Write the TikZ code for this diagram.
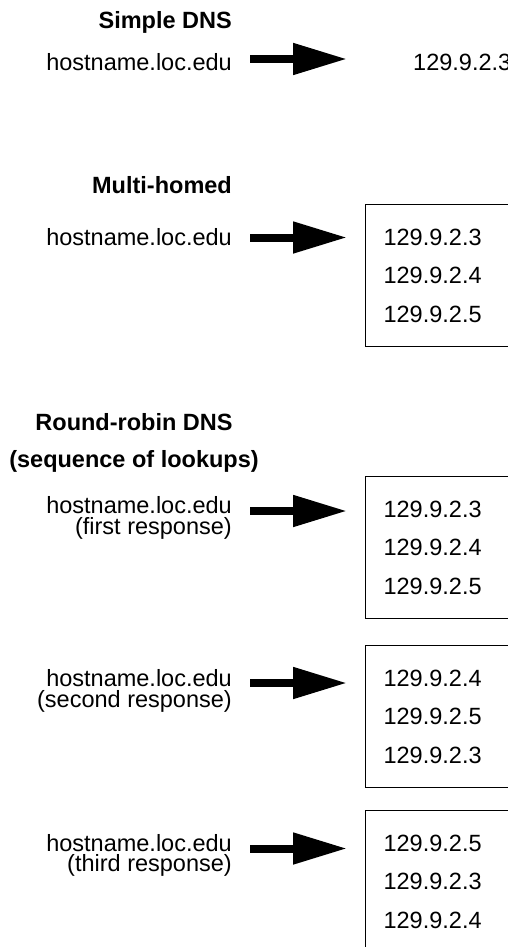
\documentclass[tikz,border=0pt]{standalone}
\usepackage{fontspec}
\setmainfont{Liberation Sans}
\usetikzlibrary{arrows.meta,positioning}

\begin{document}
\begin{tikzpicture}[x=1pt,y=-1pt,
	every node/.style={inner sep=0pt,font=\fontsize{23.5}{20.5}\selectfont},
	heading/.style={font=\fontsize{23.5}{37}\selectfont\bfseries},
	host/.style={anchor=base east,align=right},
	addrbox/.style={draw,line width=1.2pt,anchor=north west,align=left,
		inner xsep=18pt,inner ysep=24pt,text width=130pt,
		font=\fontsize{23.5}{38.5}\selectfont},
	bigarrow/.style={line width=8pt,-{Triangle[length=54pt,width=30pt]},
		shorten <=18pt,shorten >=18pt}]
	
	\useasboundingbox (0,0) rectangle (508,947);
	\clip (0,0) rectangle (508,947);
	
	% simple DNS
	\node[heading,anchor=base east] (simple) at (232,29) {Simple DNS};
	\node[host] (host1) at (232,70.5) {hostname.loc.edu};
	\node[anchor=base west] (ip1) at (413,70.5) {129.9.2.3};
	
	% multi-homed
	\node[heading,anchor=base east] (multi) at (232,193) {Multi-homed};
	\node[host] (host2) at (232,245) {hostname.loc.edu};
	\node[addrbox] (box2) at (365,204) {129.9.2.3\\129.9.2.4\\129.9.2.5};
	
	% round-robin (base east = last line)
	\node[heading,anchor=base] (rr) at (134,430) {Round-robin DNS};
	\node[heading,anchor=base] (rrseq) at (134,467) {(sequence of lookups)};
	
	\node[host] (host3) at (232,534) {hostname.loc.edu\\(first response)};
	\node[addrbox] (box3) at (365,476) {129.9.2.3\\129.9.2.4\\129.9.2.5};
	
	\node[host] (host4) at (232,707) {hostname.loc.edu\\(second response)};
	\node[addrbox] (box4) at (365,645) {129.9.2.4\\129.9.2.5\\129.9.2.3};
	
	\node[host] (host5) at (232,871.5) {hostname.loc.edu\\(third response)};
	\node[addrbox] (box5) at (365,810) {129.9.2.5\\129.9.2.3\\129.9.2.4};
	
	\coordinate (a1) at ([yshift=11.5pt]host1.base east);
	\coordinate (a2) at ([yshift=7.5pt]host2.base east);
	\coordinate (a3) at ([yshift=23pt]host3.base east);
	\coordinate (a4) at ([yshift=24pt]host4.base east);
	\coordinate (a5) at ([yshift=23pt]host5.base east);
	
	\draw[bigarrow,shorten >=66pt] (a1) -- (a1 -| ip1.west);
	\foreach \n in {2,...,5}
		\draw[bigarrow] (a\n) -- (a\n -| box\n.west);
\end{tikzpicture}
\end{document}
